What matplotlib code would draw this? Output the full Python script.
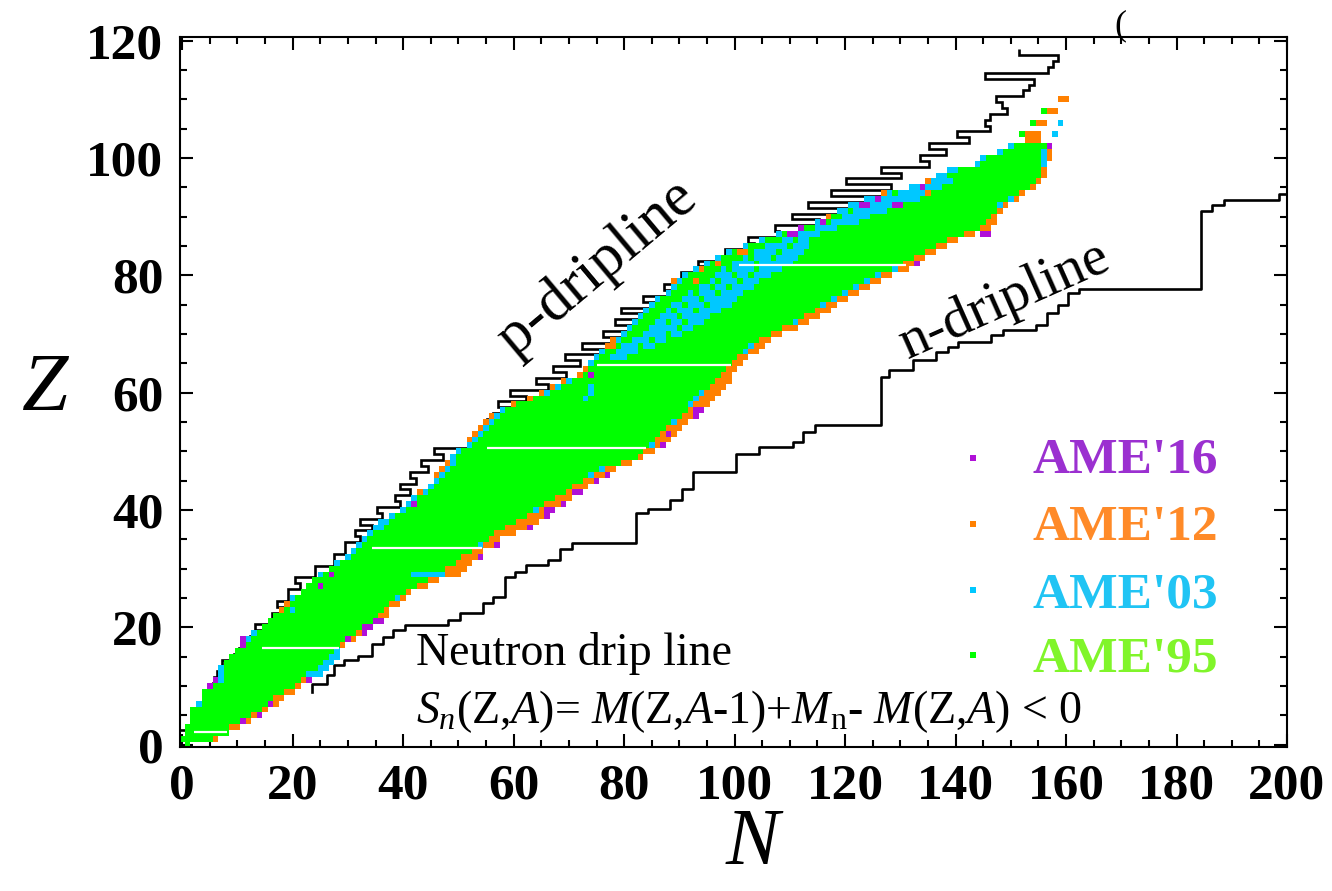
"""Chart of nuclides: AME mass evaluations with proton and neutron drip lines."""
import matplotlib
matplotlib.use('Agg')

import numpy as np
import matplotlib.pyplot as plt

# ---- data ----
# rows Z = 0..110, N ranges of each layer (outer orange, cyan, green)
Z = list(range(0, 111))
lo_o = [1, 0, 1, 1, 2, 2, 2, 3, 4, 4,
        5, 6, 7, 7, 8, 9, 10, 11, 12, 13,
        15, 16, 17, 18, 19, 20, 22, 23, 24, 25,
        27, 28, 30, 31, 32, 33, 34, 35, 36, 38,
        40, 41, 42, 43, 45, 46, 46, 47, 48, 49,
        50, 52, 52, 53, 54, 55, 56, 58, 60, 63,
        65, 67, 69, 72, 73, 74, 75, 76, 77, 79,
        80, 81, 82, 83, 84, 85, 86, 88, 89, 89,
        91, 93, 95, 97, 99, 102, 105, 108, 112, 115,
        117, 119, 121, 124, 127, 132, 135, 137, 139, 144,
        145, 148, 150, 153, 152, 1, 154, 1, 156, 1, 159]
lo_c = [1, 0, 1, 1, 2, 2, 2, 3, 4, 4,
        5, 7, 7, 7, 8, 9, 10, 11, 12, 13,
        15, 16, 17, 19, 20, 20, 22, 23, 24, 25,
        27, 28, 30, 31, 32, 33, 34, 35, 36, 38,
        40, 41, 42, 44, 45, 46, 47, 48, 49, 49,
        50, 52, 53, 54, 55, 56, 57, 58, 61, 64,
        66, 68, 70, 73, 74, 74, 75, 76, 77, 79,
        80, 81, 82, 83, 84, 85, 86, 88, 89, 90,
        91, 93, 95, 97, 99, 102, 105, 108, 112, 115,
        117, 119, 121, 124, 128, 132, 136, 137, 139, 144,
        145, 148, 150, 156, 152, 1, 154, 1, 156, 1, 161]
lo_g = [1, 0, 1, 1, 2, 2, 2, 4, 4, 4,
        6, 8, 8, 8, 8, 9, 10, 12, 13, 14,
        15, 16, 17, 19, 20, 21, 22, 23, 24, 26,
        27, 29, 31, 32, 33, 34, 35, 37, 38, 39,
        41, 42, 43, 45, 46, 47, 48, 49, 50, 50,
        51, 53, 54, 55, 56, 57, 58, 59, 61, 64,
        67, 69, 71, 73, 74, 75, 76, 77, 78, 80,
        81, 82, 83, 84, 85, 86, 87, 89, 90, 91,
        92, 94, 96, 98, 100, 103, 106, 109, 113, 116,
        118, 121, 123, 126, 129, 134, 137, 139, 141, 145,
        146, 149, 151, 156, 152, 1, 154, 1, 156, 1, 161]
hi_g = [1, 5, 8, 8, 10, 12, 14, 15, 16, 18,
        20, 21, 22, 24, 25, 26, 27, 28, 29, 31,
        32, 34, 35, 36, 37, 38, 40, 42, 44, 41,
        47, 49, 50, 52, 53, 55, 56, 58, 60, 62,
        63, 65, 67, 69, 70, 72, 73, 75, 79, 82,
        83, 84, 85, 86, 87, 88, 90, 91, 91, 92,
        93, 95, 96, 97, 98, 99, 100, 101, 102, 104,
        106, 108, 110, 112, 114, 115, 117, 119, 121, 123,
        125, 128, 130, 132, 134, 136, 138, 141, 144, 145,
        146, 147, 147, 149, 151, 153, 154, 155, 155, 155,
        155, 155, 156, 155, 152, 0, 154, 0, 156, 0, 160]
hi_c = [1, 5, 8, 8, 10, 12, 14, 15, 16, 18,
        20, 21, 25, 26, 27, 28, 28, 28, 29, 31,
        32, 34, 35, 36, 37, 39, 40, 42, 44, 47,
        47, 49, 50, 52, 54, 55, 56, 58, 60, 62,
        64, 65, 67, 69, 70, 72, 74, 76, 79, 82,
        83, 85, 85, 86, 87, 89, 90, 91, 92, 93,
        94, 95, 96, 97, 98, 99, 100, 102, 103, 104,
        106, 108, 111, 112, 114, 116, 118, 120, 122, 124,
        126, 129, 130, 132, 134, 136, 138, 141, 144, 145,
        146, 147, 148, 150, 151, 153, 154, 155, 155, 156,
        156, 156, 156, 155, 152, 0, 154, 0, 156, 0, 160]
hi_o = [1, 6, 8, 10, 12, 13, 15, 17, 18, 20,
        21, 22, 25, 26, 27, 28, 28, 29, 31, 32,
        34, 36, 37, 37, 39, 40, 41, 44, 46, 50,
        51, 52, 53, 54, 56, 57, 60, 62, 64, 66,
        67, 68, 70, 71, 73, 74, 76, 78, 81, 83,
        85, 86, 88, 89, 90, 91, 92, 94, 95, 96,
        97, 98, 99, 99, 100, 101, 102, 104, 105, 106,
        108, 111, 113, 115, 117, 118, 120, 122, 124, 126,
        128, 131, 132, 134, 136, 138, 140, 143, 146, 147,
        147, 148, 149, 151, 152, 154, 155, 156, 156, 156,
        157, 157, 157, 155, 155, 0, 156, 0, 158, 0, 160]

# AME'03 patches inside the AME'95 area (proton-rich side)
cin_Z = [66, 67, 68, 69, 70, 71, 72, 73, 74, 75, 76, 77, 78,
         79, 80, 81, 82, 83, 84, 85, 86, 87, 88, 89, 90, 91, 92, 93, 94, 95, 96]
cin_lo = [78, 79, 80, 82, 84, 85, 86, 87, 88, 89, 91, 92, 94,
          96, 97, 98, 100, 102, 104, 106, 109, 112, 115, 118, 120, 122, 124, 127, 130, 135, 137]
cin_hi = [80, 82, 85, 87, 90, 92, 94, 95, 97, 99, 100, 101, 103,
          104, 106, 108, 110, 111, 112, 113, 113, 115, 118, 122, 124, 127, 130, 133, 135, 137, 139]

# single cells (Z, N)
green_cells = [(68, 83), (69, 85), (70, 88), (71, 90), (72, 88), (72, 91), (73, 90),
               (74, 89), (74, 93), (75, 91), (75, 95), (76, 94), (77, 93), (77, 97),
               (78, 96), (78, 99), (79, 97), (79, 101), (80, 100), (80, 103),
               (81, 99), (81, 104), (82, 104), (83, 103), (83, 107), (84, 108),
               (85, 110), (86, 111)]
orange_cells = [(68, 77), (68, 78), (69, 78), (84, 101), (84, 102), (82, 97),
                (81, 94), (79, 93), (90, 117), (94, 135)]
cyan_cells = [(104, 158), (106, 159), (7, 3), (23, 20), (59, 73), (60, 74), (61, 74)]
purple_cells = [(4, 11), (5, 14), (7, 16), (10, 5), (11, 6), (11, 23), (17, 11),
                (18, 11), (18, 30), (19, 33), (20, 33), (20, 34), (21, 35), (21, 36),
                (27, 25), (29, 27), (32, 54), (34, 57), (37, 63), (39, 66), (40, 66),
                (40, 67), (41, 42), (41, 69), (43, 71), (43, 72), (45, 75), (46, 77),
                (51, 87), (53, 88), (56, 93), (57, 93), (57, 94), (63, 74), (82, 133),
                (87, 110), (87, 111), (87, 145), (87, 146), (88, 112), (89, 116),
                (92, 123), (92, 124), (92, 129), (92, 130), (93, 126), (95, 134),
                (102, 157)]

# proton drip line: left edge N of every row Z = 1..118
pdrip_Z = list(range(1, 119))
pdrip_N = [-0.5, -0.5, 2.1, 2.5, 2.8, 3.5, 4.0, 4.5, 5.0, 5.5,
           5.8, 6.3, 7.2, 7.2, 9.3, 10.2, 11.5, 12.2, 15.3, 13.2,
           17.1, 16.2, 18.3, 17.1, 19.2, 19.2, 21.3, 20.4, 24.1, 24.1,
           27.4, 27.4, 29.5, 29.5, 32.2, 31.3, 34.3, 32.2, 36.1, 35.2,
           39.4, 38.5, 41.2, 39.4, 42.4, 41.2, 44.5, 43.3, 47.3, 45.5,
           55.1, 55.1, 55.1, 55.1, 55.1, 56.2, 60.5, 57.2, 62.3, 59.3,
           66.2, 64.1, 69.5, 67.2, 72.0, 69.3, 76.2, 72.3, 80.4, 76.2,
           82.5, 78.3, 85.5, 79.5, 87.7, 83.5, 91.5, 87.3, 93.7, 90.3,
           95.5, 93.3, 99.7, 98.3, 103.6, 102.5, 108.1, 107.4, 115.3, 110.4,
           120.7, 113.2, 128.0, 117.4, 128.3, 120.1, 130.2, 126.5, 135.2, 133.6,
           138.3, 135.2, 142.4, 140.3, 146.3, 145.3, 146.3, 149.3, 148.4, 147.3,
           152.2, 153.3, 154.2, 145.3, 156.7, 157.6, 158.5, 151.5]

# neutron drip line corners (start of each horizontal run)
ndrip_N = [23.5, 23.5, 26.2, 27.4, 29.2, 31.9, 34.3, 36.4, 38.2, 40.3, 48.2, 50.3,
           54.5, 56.3, 58.4, 60.2, 62.3, 66.3, 68.4, 70.5, 82.2, 84.3, 88.3, 90.4,
           92.5, 100.3, 104.5, 110.6, 112.4, 114.5, 126.5, 128.0, 132.3, 136.5,
           138.6, 140.4, 146.4, 148.5, 154.5, 156.5, 158.5, 160.3, 162.4, 184.4,
           186.5, 188.6, 198.6, 200.5]
ndrip_Z = [9.0, 10.4, 11.8, 13.5, 14.4, 15.1, 17.2, 18.4, 19.5, 20.4, 21.2, 22.4,
           24.1, 25.2, 28.6, 29.4, 30.6, 31.4, 33.4, 34.3, 39.4, 40.2, 41.7, 43.6,
           46.5, 49.6, 50.7, 51.6, 53.3, 54.4, 62.7, 63.8, 65.5, 66.9,
           67.8, 68.6, 69.8, 70.6, 71.6, 73.5, 74.9, 76.9, 77.7, 90.9,
           92.0, 92.9, 93.9, 93.9]

# white seams running across the band
seam_Z = [2.2, 16.4, 33.5, 50.5, 64.65, 81.7]
seam_N0 = [2.1, 14.4, 34.3, 55.1, 75.0, 100.8]
seam_N1 = [8.1, 28.3, 54.2, 84.0, 99.4, 131.0]

labels = ["AME'16", "AME'12", "AME'03", "AME'95"]
cell_colors = ['#b010d8', '#ff8000', '#00c8ff', '#00ff00']
text_colors = ['#9b30d0', '#ff8a28', '#20c4f4', '#80f52a']

###

plt.rcParams['font.family'] = ['Liberation Serif', 'DejaVu Serif']
plt.rcParams['mathtext.fontset'] = 'custom'
plt.rcParams['mathtext.rm'] = 'Liberation Serif'
plt.rcParams['mathtext.it'] = 'Liberation Serif:italic'

fig = plt.figure(figsize=(13.32, 8.91), dpi=100)
ax = fig.add_axes([180 / 1332, 1 - 747 / 891, 1107 / 1332, 710 / 891])


def band(z, lo, hi, color, zorder=2):
    z = np.asarray(z)
    lo = np.asarray(lo)
    hi = np.asarray(hi)
    keep = hi >= lo
    ax.barh(z[keep], hi[keep] - lo[keep] + 1, left=lo[keep] - 0.5, height=1.0,
            color=color, linewidth=0, antialiased=False, zorder=zorder)


def cells(pts, color, zorder):
    zz = [p[0] for p in pts]
    nn = [p[1] for p in pts]
    band(zz, nn, nn, color, zorder)


purple, orange, cyan, green = cell_colors

band(Z, lo_o, hi_o, orange, 2)
band(Z, lo_c, hi_c, cyan, 2.1)
band(Z, lo_g, hi_g, green, 2.2)
band(cin_Z, cin_lo, cin_hi, cyan, 2.3)
cells(green_cells, green, 2.4)
cells(orange_cells, orange, 2.4)
cells(cyan_cells, cyan, 2.4)
cells(purple_cells, purple, 2.5)

ax.hlines(seam_Z, seam_N0, seam_N1, colors='white', lw=1.6, zorder=2.6)

# drip lines
edges = np.append(np.array(pdrip_Z) - 0.5, pdrip_Z[-1] + 0.5)
ax.stairs(pdrip_N, edges, orientation='horizontal', baseline=None,
          color='black', lw=1.9, zorder=1.5)
ax.step(ndrip_N, ndrip_Z, where='post', color='black', lw=1.9, zorder=1.5)

ax.text(75.2, 81.2, 'p-dripline', fontsize=44, rotation=40,
        rotation_mode='anchor', ha='center', va='center')
ax.text(149.0, 75.7, 'n-dripline', fontsize=41, rotation=24,
        rotation_mode='anchor', ha='center', va='center')

ax.text(42.3, 13.6, 'Neutron drip line', fontsize=33, va='baseline')
ax.text(42.3, 3.7,
        r'$S_n$(Z,$A$)= $M$(Z,$A$-$\mathit{1}$)+$M_\mathrm{n}$- $M$(Z,$A$) < 0',
        fontsize=33, va='baseline')

# legend
mark_Z = [48.9, 37.6, 26.4, 15.2]
text_Z = [46.3, 34.8, 23.4, 12.4]
for lab, cc, tc, mz, tz in zip(labels, cell_colors, text_colors, mark_Z, text_Z):
    ax.scatter([143.2], [mz], marker='s', s=14, color=cc, linewidths=0, zorder=4)
    ax.text(153.9, tz, lab, fontsize=37, fontweight='bold', color=tc,
            va='baseline', zorder=4)

ax.set_xlim(-0.4, 200)
ax.set_ylim(-0.4, 120.6)
ax.set_xticks(np.arange(0, 201, 20))
ax.set_xticks(np.arange(0, 201, 5), minor=True)
ax.set_yticks(np.arange(0, 121, 20))
ax.set_yticks(np.arange(0, 121, 5), minor=True)
ax.tick_params(which='both', direction='in', top=True, right=True, width=1.5)
ax.tick_params(which='major', length=9.5, labelsize=37, pad=12)
ax.tick_params(which='minor', length=5)
for lab in ax.get_xticklabels() + ax.get_yticklabels():
    lab.set_fontweight('bold')
for sp in ax.spines.values():
    sp.set_linewidth(1.5)

fig.text(752 / 1332, 1 - 845 / 891, 'N', fontsize=58, style='italic',
         ha='center', va='center')
fig.text(45 / 1332, 1 - 390 / 891, 'Z', fontsize=60, style='italic',
         ha='center', va='center')
# clipped bracket at the top edge of the source figure
fig.text(1120 / 1332, 1 - 26 / 891, '(', fontsize=26, ha='center', va='center')

fig.savefig('out.png', dpi=100, facecolor='white')
plt.close(fig)
